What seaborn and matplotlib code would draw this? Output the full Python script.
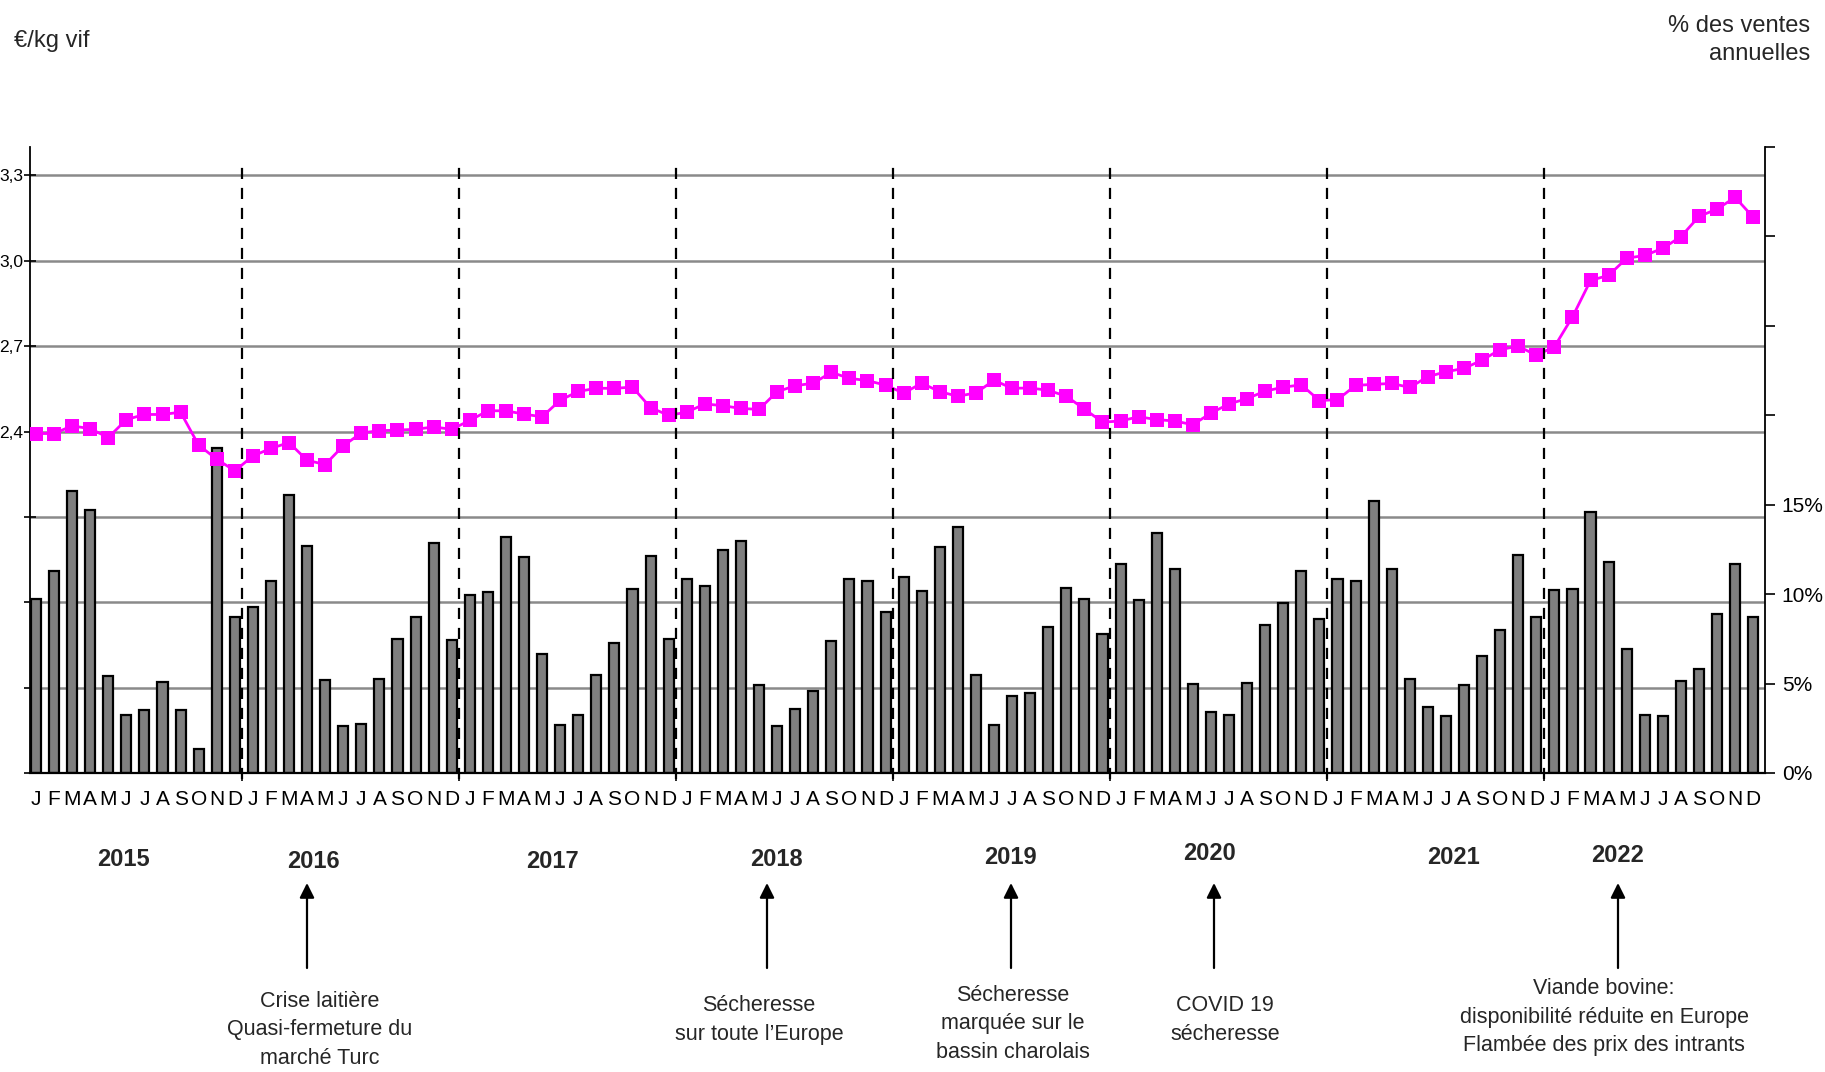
import matplotlib
matplotlib.use("Agg")
import matplotlib.pyplot as plt
import seaborn as sns
import numpy as np
import pandas as pd

# monthly share of annual sales (%), 2015 -> 2022
sales_2015 = [9.74, 11.32, 15.77, 14.71, 5.40, 3.26, 3.54, 5.10, 3.54, 1.34, 18.19, 8.70]
sales_2016 = [9.26, 10.71, 15.55, 12.70, 5.18, 2.61, 2.76, 5.25, 7.49, 8.75, 12.85, 7.41]
sales_2017 = [9.96, 10.11, 13.18, 12.05, 6.67, 2.66, 3.26, 5.47, 7.26, 10.28, 12.14, 7.49]
sales_2018 = [10.84, 10.47, 12.48, 12.98, 4.90, 2.61, 3.59, 4.60, 7.39, 10.84, 10.76, 8.99]
sales_2019 = [10.95, 10.19, 12.61, 13.78, 5.46, 2.66, 4.32, 4.47, 8.18, 10.34, 9.74, 7.77]
sales_2020 = [11.69, 9.68, 13.41, 11.40, 4.97, 3.41, 3.26, 5.03, 8.25, 9.53, 11.32, 8.62]
sales_2021 = [10.84, 10.71, 15.21, 11.42, 5.25, 3.67, 3.17, 4.92, 6.55, 7.99, 12.20, 8.70]
sales_2022 = [10.24, 10.30, 14.62, 11.77, 6.96, 3.26, 3.17, 5.12, 5.83, 8.88, 11.68, 8.70]

# price in EUR/kg live weight
price_2015 = [2.393, 2.393, 2.420, 2.410, 2.379, 2.442, 2.460, 2.460, 2.468, 2.352, 2.303, 2.262]
price_2016 = [2.314, 2.341, 2.361, 2.299, 2.284, 2.350, 2.395, 2.403, 2.405, 2.408, 2.416, 2.408]
price_2017 = [2.439, 2.473, 2.473, 2.461, 2.452, 2.510, 2.541, 2.552, 2.552, 2.556, 2.484, 2.457]
price_2018 = [2.468, 2.497, 2.491, 2.481, 2.478, 2.540, 2.561, 2.570, 2.608, 2.587, 2.579, 2.563]
price_2019 = [2.535, 2.570, 2.540, 2.524, 2.536, 2.580, 2.552, 2.553, 2.545, 2.524, 2.479, 2.433]
price_2020 = [2.437, 2.452, 2.442, 2.437, 2.424, 2.465, 2.497, 2.516, 2.542, 2.556, 2.564, 2.509]
price_2021 = [2.512, 2.562, 2.566, 2.569, 2.555, 2.593, 2.610, 2.622, 2.651, 2.688, 2.700, 2.668]
price_2022 = [2.698, 2.803, 2.931, 2.949, 3.009, 3.019, 3.044, 3.085, 3.156, 3.182, 3.223, 3.153]

years = ["2015", "2016", "2017", "2018", "2019", "2020", "2021", "2022"]
month_letters = ["J", "F", "M", "A", "M", "J", "J", "A", "S", "O", "N", "D"]

left_ticks = [1.2, 1.5, 1.8, 2.1, 2.4, 2.7, 3.0, 3.3]
left_labels = ["", "", "", "", "2,4", "2,7", "3,0", "3,3"]
right_ticks = [0, 5, 10, 15, 20, 25, 30, 35]
right_labels = ["0%", "5%", "10%", "15%", "", "", "", ""]

events = [
    ("Crise laitière\nQuasi-fermeture du\nmarché Turc", 320, 1030, 307),
    ("Sécheresse\nsur toute l’Europe", 759, 1020, 767),
    ("Sécheresse\nmarquée sur le\nbassin charolais", 1013, 1024, 1011),
    ("COVID 19\nsécheresse", 1225, 1020, 1214),
    ("Viande bovine:\ndisponibilité réduite en Europe\nFlambée des prix des intrants", 1604, 1017, 1618),
]
year_label_pos = [(123, 859), (313, 861), (552, 861), (776, 859),
                  (1010, 858), (1210, 853), (1454, 858), (1618, 855)]

sales = sales_2015 + sales_2016 + sales_2017 + sales_2018 + sales_2019 + sales_2020 + sales_2021 + sales_2022
price = price_2015 + price_2016 + price_2017 + price_2018 + price_2019 + price_2020 + price_2021 + price_2022
df = pd.DataFrame({"idx": np.arange(len(sales)), "sales": sales, "price": price})

sns.set_style("white")
plt.rcParams["font.family"] = ["Liberation Sans", "DejaVu Sans"]

W, H = 1825, 1072
fig = plt.figure(figsize=(W / 100, H / 100), dpi=100)
ax = fig.add_axes([30 / W, 1 - 773 / H, (1765 - 30) / W, (773 - 147) / H])
ax2 = ax.twinx()
ax3 = ax.twinx()

# grid on the price axis (drawn first, under the bars)
ax.set_ylim(1.2, 3.4)
ax.set_yticks(left_ticks, left_labels)
ax.grid(axis="y", color="#8a8a8a", linewidth=1.8)
ax.grid(axis="x", visible=False)
ax.tick_params(axis="y", direction="inout", length=9, width=1.2, pad=0.5,
               labelsize=12.5, colors="black")

# bars: share of yearly sales
sns.barplot(data=df, x="idx", y="sales", ax=ax2, color="#7f7f7f",
            saturation=1, edgecolor="black", linewidth=1.6, width=0.56)
ax2.set_ylim(0, 35)
ax2.set_yticks(right_ticks, right_labels)
ax2.tick_params(axis="y", direction="out", length=7, width=1.2, pad=5,
                labelsize=15, colors="black")
ax2.set_ylabel("")
ax2.set_xlabel("")

# price line
sns.lineplot(data=df, x="idx", y="price", ax=ax3, color="#ff00ff",
             linewidth=2, marker="s", markersize=9.5, markeredgewidth=0)
ax3.set_ylim(1.2, 3.4)
ax3.set_yticks([])
ax3.set_ylabel("")
ax3.set_xlabel("")

# x axis (shared, drawn by the base axes): month letters + year boundaries
bounds = [12 * k - 0.6 for k in range(1, 8)]
ax.xaxis.set_visible(True)
ax.set_xlim(-0.33, 95.65)
ax.set_xticks(df["idx"], month_letters * len(years))
ax.set_xticks(bounds, minor=True)
ax.tick_params(axis="x", which="major", bottom=True, labelbottom=True,
               length=0, pad=12, labelsize=15, colors="black")
ax.tick_params(axis="x", which="minor", bottom=True, direction="out",
               length=6, width=1.2, colors="black")
ax.set_xlabel("")

for a in (ax, ax2, ax3):
    for s in a.spines.values():
        s.set_visible(False)
ax.spines["left"].set_visible(True)
ax.spines["left"].set_linewidth(1.3)
ax.spines["left"].set_color("black")
ax2.spines["right"].set_visible(True)
ax2.spines["right"].set_linewidth(1.3)
ax2.spines["right"].set_color("black")
ax2.spines["bottom"].set_visible(True)
ax2.spines["bottom"].set_linewidth(1.6)
ax2.spines["bottom"].set_color("black")

for b in bounds:
    ax3.axvline(b, ymin=-0.01, ymax=0.97, color="black", linestyle=(0, (5, 4)),
                linewidth=1.6, clip_on=False)

# header texts
fig.text(14 / W, 1 - 41 / H, "€/kg vif", fontsize=17, va="center", ha="left")
fig.text(1810 / W, 1 - 40 / H, "% des ventes\nannuelles", fontsize=17,
         va="center", ha="right", multialignment="right", linespacing=1.35)

# years
for yr, (px, py) in zip(years, year_label_pos):
    fig.text(px / W, 1 - py / H, yr, fontsize=17, fontweight="bold",
             ha="center", va="center")

# events and arrows
for txt, tx, ty, axx in events:
    fig.text(tx / W, 1 - ty / H, txt, fontsize=15.5,
             ha="center", va="center", linespacing=1.45)
    ax.annotate("", xy=(axx, H - 883), xytext=(axx, H - 968),
                xycoords="figure pixels", textcoords="figure pixels",
                arrowprops=dict(arrowstyle="-|>", color="black", lw=1.6,
                                mutation_scale=22, shrinkA=0, shrinkB=0),
                annotation_clip=False)

fig.savefig("out.png", dpi=100, facecolor="white")
